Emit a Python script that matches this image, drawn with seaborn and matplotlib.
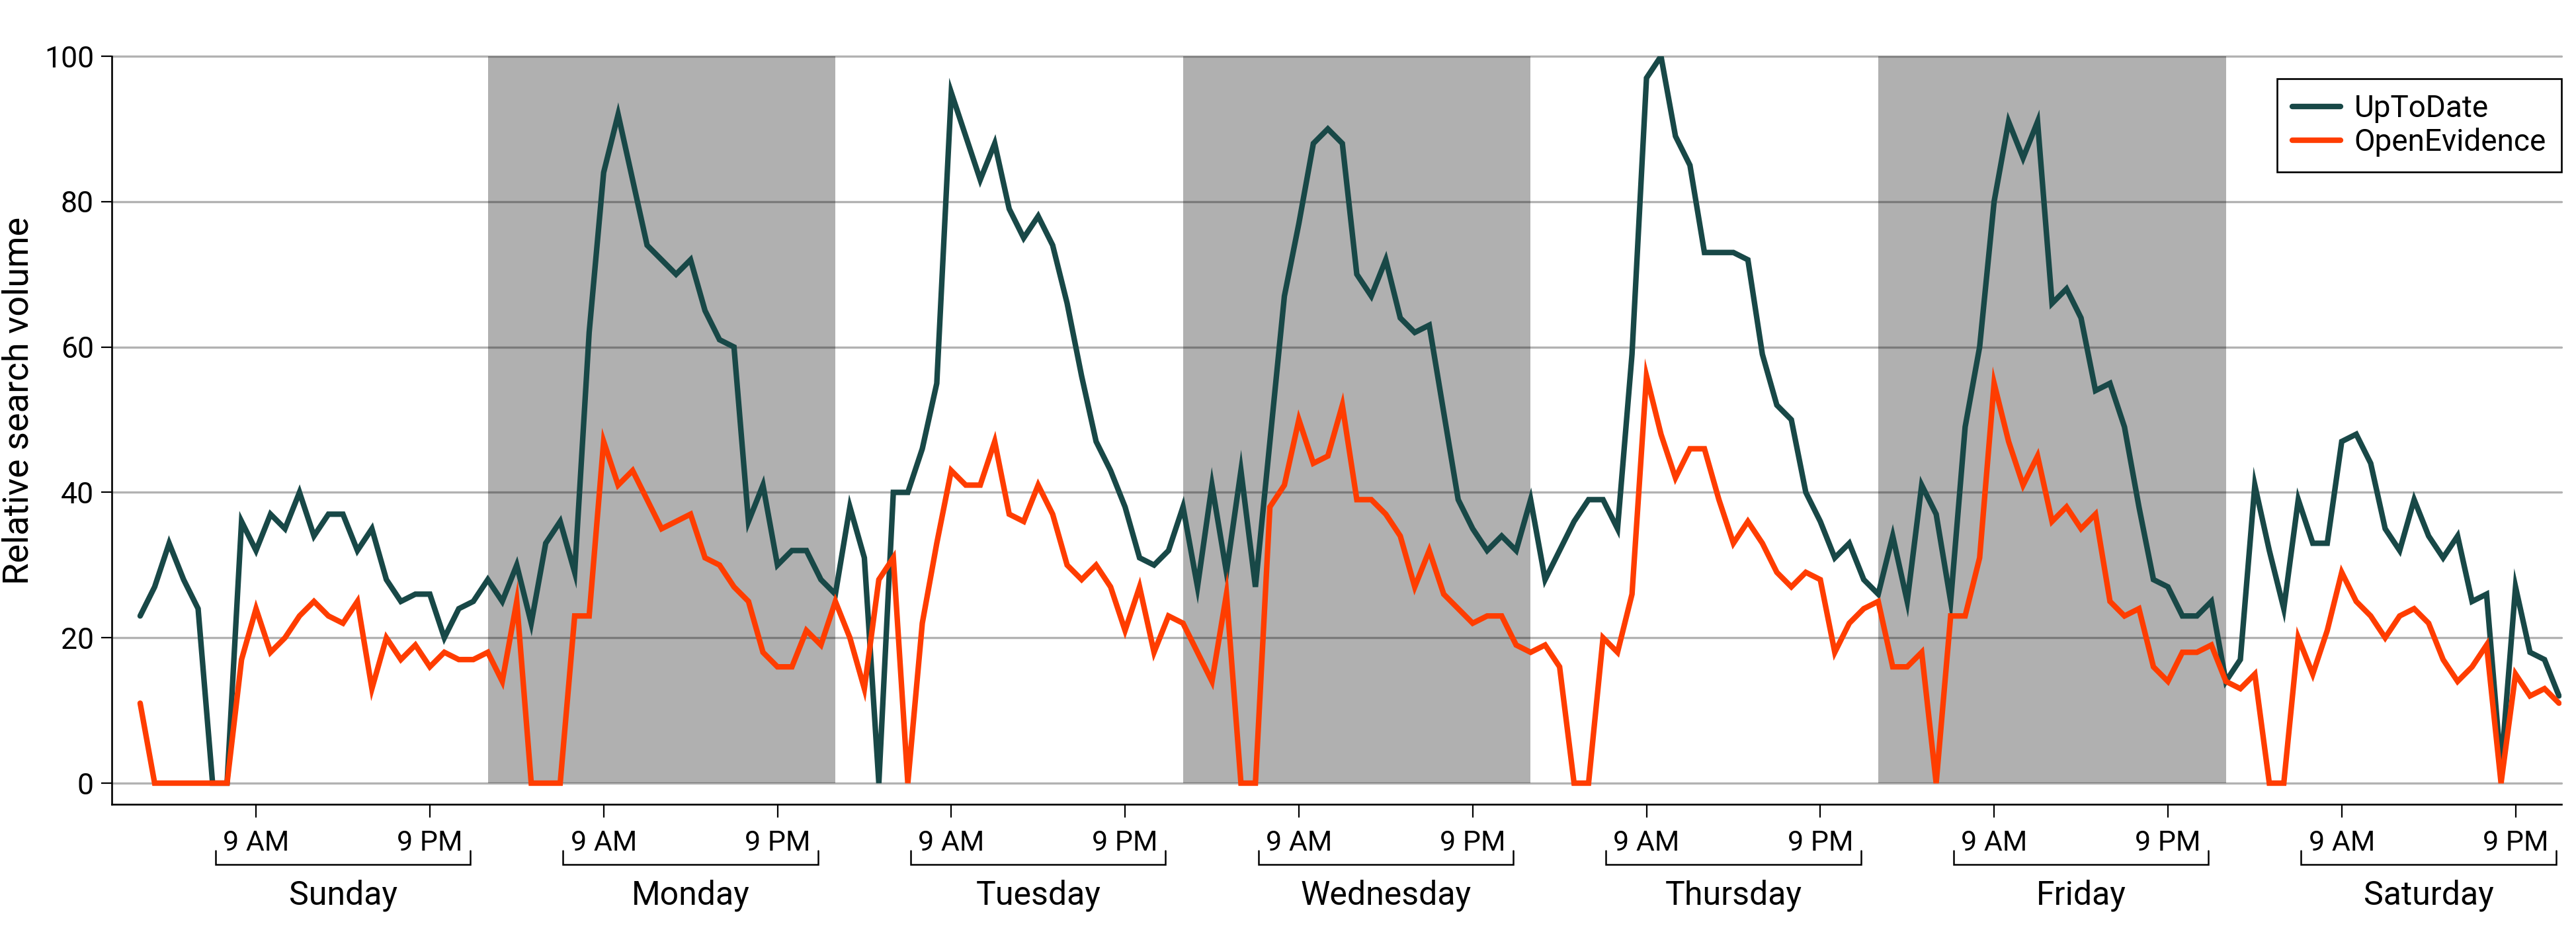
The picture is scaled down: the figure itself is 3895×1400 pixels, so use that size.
import numpy as np
import pandas as pd
import matplotlib
matplotlib.use("Agg")
import matplotlib.pyplot as plt
import seaborn as sns
from matplotlib.transforms import blended_transform_factory

# ---------------- data ----------------
days = ["Sunday", "Monday", "Tuesday", "Wednesday", "Thursday", "Friday", "Saturday"]
shaded_days = ["Monday", "Wednesday", "Friday"]
tick_labels = ["9 AM", "9 PM"]
tick_hours = [8, 20]          # hourly index within each day where ticks sit
series_names = ["UpToDate", "OpenEvidence"]

uptodate = [
    23, 27, 33, 28, 24, 0, 0, 36, 32, 37, 35, 40, 34, 37, 37, 32, 35, 28, 25, 26, 26, 20, 24, 25,
    28, 25, 30, 22, 33, 36, 29, 62, 84, 92, 83, 74, 72, 70, 72, 65, 61, 60, 36, 41, 30, 32, 32, 28,
    26, 38, 31, 0, 40, 40, 46, 55, 95, 89, 83, 88, 79, 75, 78, 74, 66, 56, 47, 43, 38, 31, 30, 32,
    38, 27, 41, 29, 43, 27, 47, 67, 77, 88, 90, 88, 70, 67, 72, 64, 62, 63, 51, 39, 35, 32, 34, 32,
    39, 28, 32, 36, 39, 39, 35, 59, 97, 100, 89, 85, 73, 73, 73, 72, 59, 52, 50, 40, 36, 31, 33, 28,
    26, 34, 25, 41, 37, 25, 49, 60, 80, 91, 86, 91, 66, 68, 64, 54, 55, 49, 38, 28, 27, 23, 23, 25,
    14, 17, 41, 32, 24, 39, 33, 33, 47, 48, 44, 35, 32, 39, 34, 31, 34, 25, 26, 2, 27, 18, 17, 12,
]
openevidence = [
    11, 0, 0, 0, 0, 0, 0, 17, 24, 18, 20, 23, 25, 23, 22, 25, 13, 20, 17, 19, 16, 18, 17, 17,
    18, 14, 25, 0, 0, 0, 23, 23, 47, 41, 43, 39, 35, 36, 37, 31, 30, 27, 25, 18, 16, 16, 21, 19,
    25, 20, 13, 28, 31, 0, 22, 33, 43, 41, 41, 47, 37, 36, 41, 37, 30, 28, 30, 27, 21, 27, 18, 23,
    22, 18, 14, 26, 0, 0, 38, 41, 50, 44, 45, 52, 39, 39, 37, 34, 27, 32, 26, 24, 22, 23, 23, 19,
    18, 19, 16, 0, 0, 20, 18, 26, 56, 48, 42, 46, 46, 39, 33, 36, 33, 29, 27, 29, 28, 18, 22, 24,
    25, 16, 16, 18, 0, 23, 23, 31, 55, 47, 41, 45, 36, 38, 35, 37, 25, 23, 24, 16, 14, 18, 18, 19,
    14, 13, 15, 0, 0, 20, 15, 21, 29, 25, 23, 20, 23, 24, 22, 17, 14, 16, 19, 0, 15, 12, 13, 11,
]
y_ticks = [0, 20, 40, 60, 80, 100]

hours = np.arange(len(uptodate))
df = pd.DataFrame({
    "hour": np.concatenate([hours, hours]),
    "volume": uptodate + openevidence,
    "source": [series_names[0]] * len(uptodate) + [series_names[1]] * len(openevidence),
})

# ---------------- style ----------------
sns.set_theme(style="white")
plt.rcParams["font.family"] = ["Roboto", "DejaVu Sans"]
plt.rcParams["text.color"] = "black"

colors = {"UpToDate": "#184847", "OpenEvidence": "#ff3d00"}
band_color = "#b0b0b0"
LW = 6.0

W, H = 3895, 1400
fig = plt.figure(figsize=(W / 100, H / 100), dpi=100)
ax_left, ax_right, ax_top, ax_bottom = 169, 3873, 85, 1216
ax = fig.add_axes([ax_left / W, 1 - ax_bottom / H, (ax_right - ax_left) / W, (ax_bottom - ax_top) / H])
ax_h = ax_bottom - ax_top

ax.set_xlim(-1.96, 167.17)
ax.set_ylim(-2.91, 100)

# shaded day bands
for d, name in enumerate(days):
    if name in shaded_days:
        ax.fill_between([24 * d, 24 * d + 24], 0, 100, color=band_color, lw=0, zorder=0.5)

# gridlines
for yv in y_ticks:
    ax.axhline(yv, color="black", alpha=0.3, lw=2.4, zorder=1, clip_on=False)

sns.lineplot(data=df, x="hour", y="volume", hue="source", hue_order=series_names,
             palette=colors, linewidth=LW, ax=ax, zorder=3, solid_joinstyle="miter")
for line in ax.get_lines():
    if line.get_label() in series_names or line.get_color() in colors.values():
        line.set_linewidth(LW)

# axes styling
for s in ["top", "right"]:
    ax.spines[s].set_visible(False)
for s in ["left", "bottom"]:
    ax.spines[s].set_color("black")
    ax.spines[s].set_linewidth(1.9)

xt = [24 * d + h for d in range(len(days)) for h in tick_hours]
ax.set_xticks(xt)
ax.set_xticklabels(tick_labels * len(days))
ax.set_yticks(y_ticks)
ax.set_yticklabels([str(v) for v in y_ticks])
ax.tick_params(axis="x", bottom=True, direction="out", length=14.4, width=1.6,
               pad=13, labelsize=31, color="black", labelcolor="black")
ax.tick_params(axis="y", left=True, direction="out", length=11.5, width=1.6,
               pad=8, labelsize=32, color="black", labelcolor="black")
ax.set_xlabel("")
ax.set_ylabel("")

# day brackets and labels
trans = blended_transform_factory(ax.transData, ax.transAxes)
y_line = -(1307 - ax_bottom) / ax_h
y_end = -(1286 - ax_bottom) / ax_h
y_day = -(1367 - ax_bottom) / ax_h
for d, name in enumerate(days):
    x0, x1 = 24 * d + 5.2, 24 * d + 22.8
    ax.plot([x0, x0, x1, x1], [y_end, y_line, y_line, y_end], transform=trans,
            color="black", lw=1.8, clip_on=False, solid_joinstyle="miter")
    ax.text(24 * d + 14, y_day, name, transform=trans, ha="center", va="baseline",
            fontsize=36, color="black")

fig.text(28.5 / W, 1 - 606 / H, "Relative search volume", rotation=90,
         ha="center", va="center", fontsize=39, color="black")

# legend
handles, labels = ax.get_legend_handles_labels()
leg = ax.legend(handles, labels, loc="upper right", bbox_to_anchor=(1.0, 1 - 34 / ax_h),
                borderaxespad=0, frameon=True, fancybox=False, edgecolor="black",
                framealpha=1, fontsize=33, handlelength=1.6, handletextpad=0.45,
                labelspacing=0.15, borderpad=0.5)
leg.get_frame().set_linewidth(1.9)
for line in leg.get_lines():
    line.set_linewidth(LW)
for t in leg.get_texts():
    t.set_color("black")

fig.savefig("out.png", dpi=100, facecolor="white")
